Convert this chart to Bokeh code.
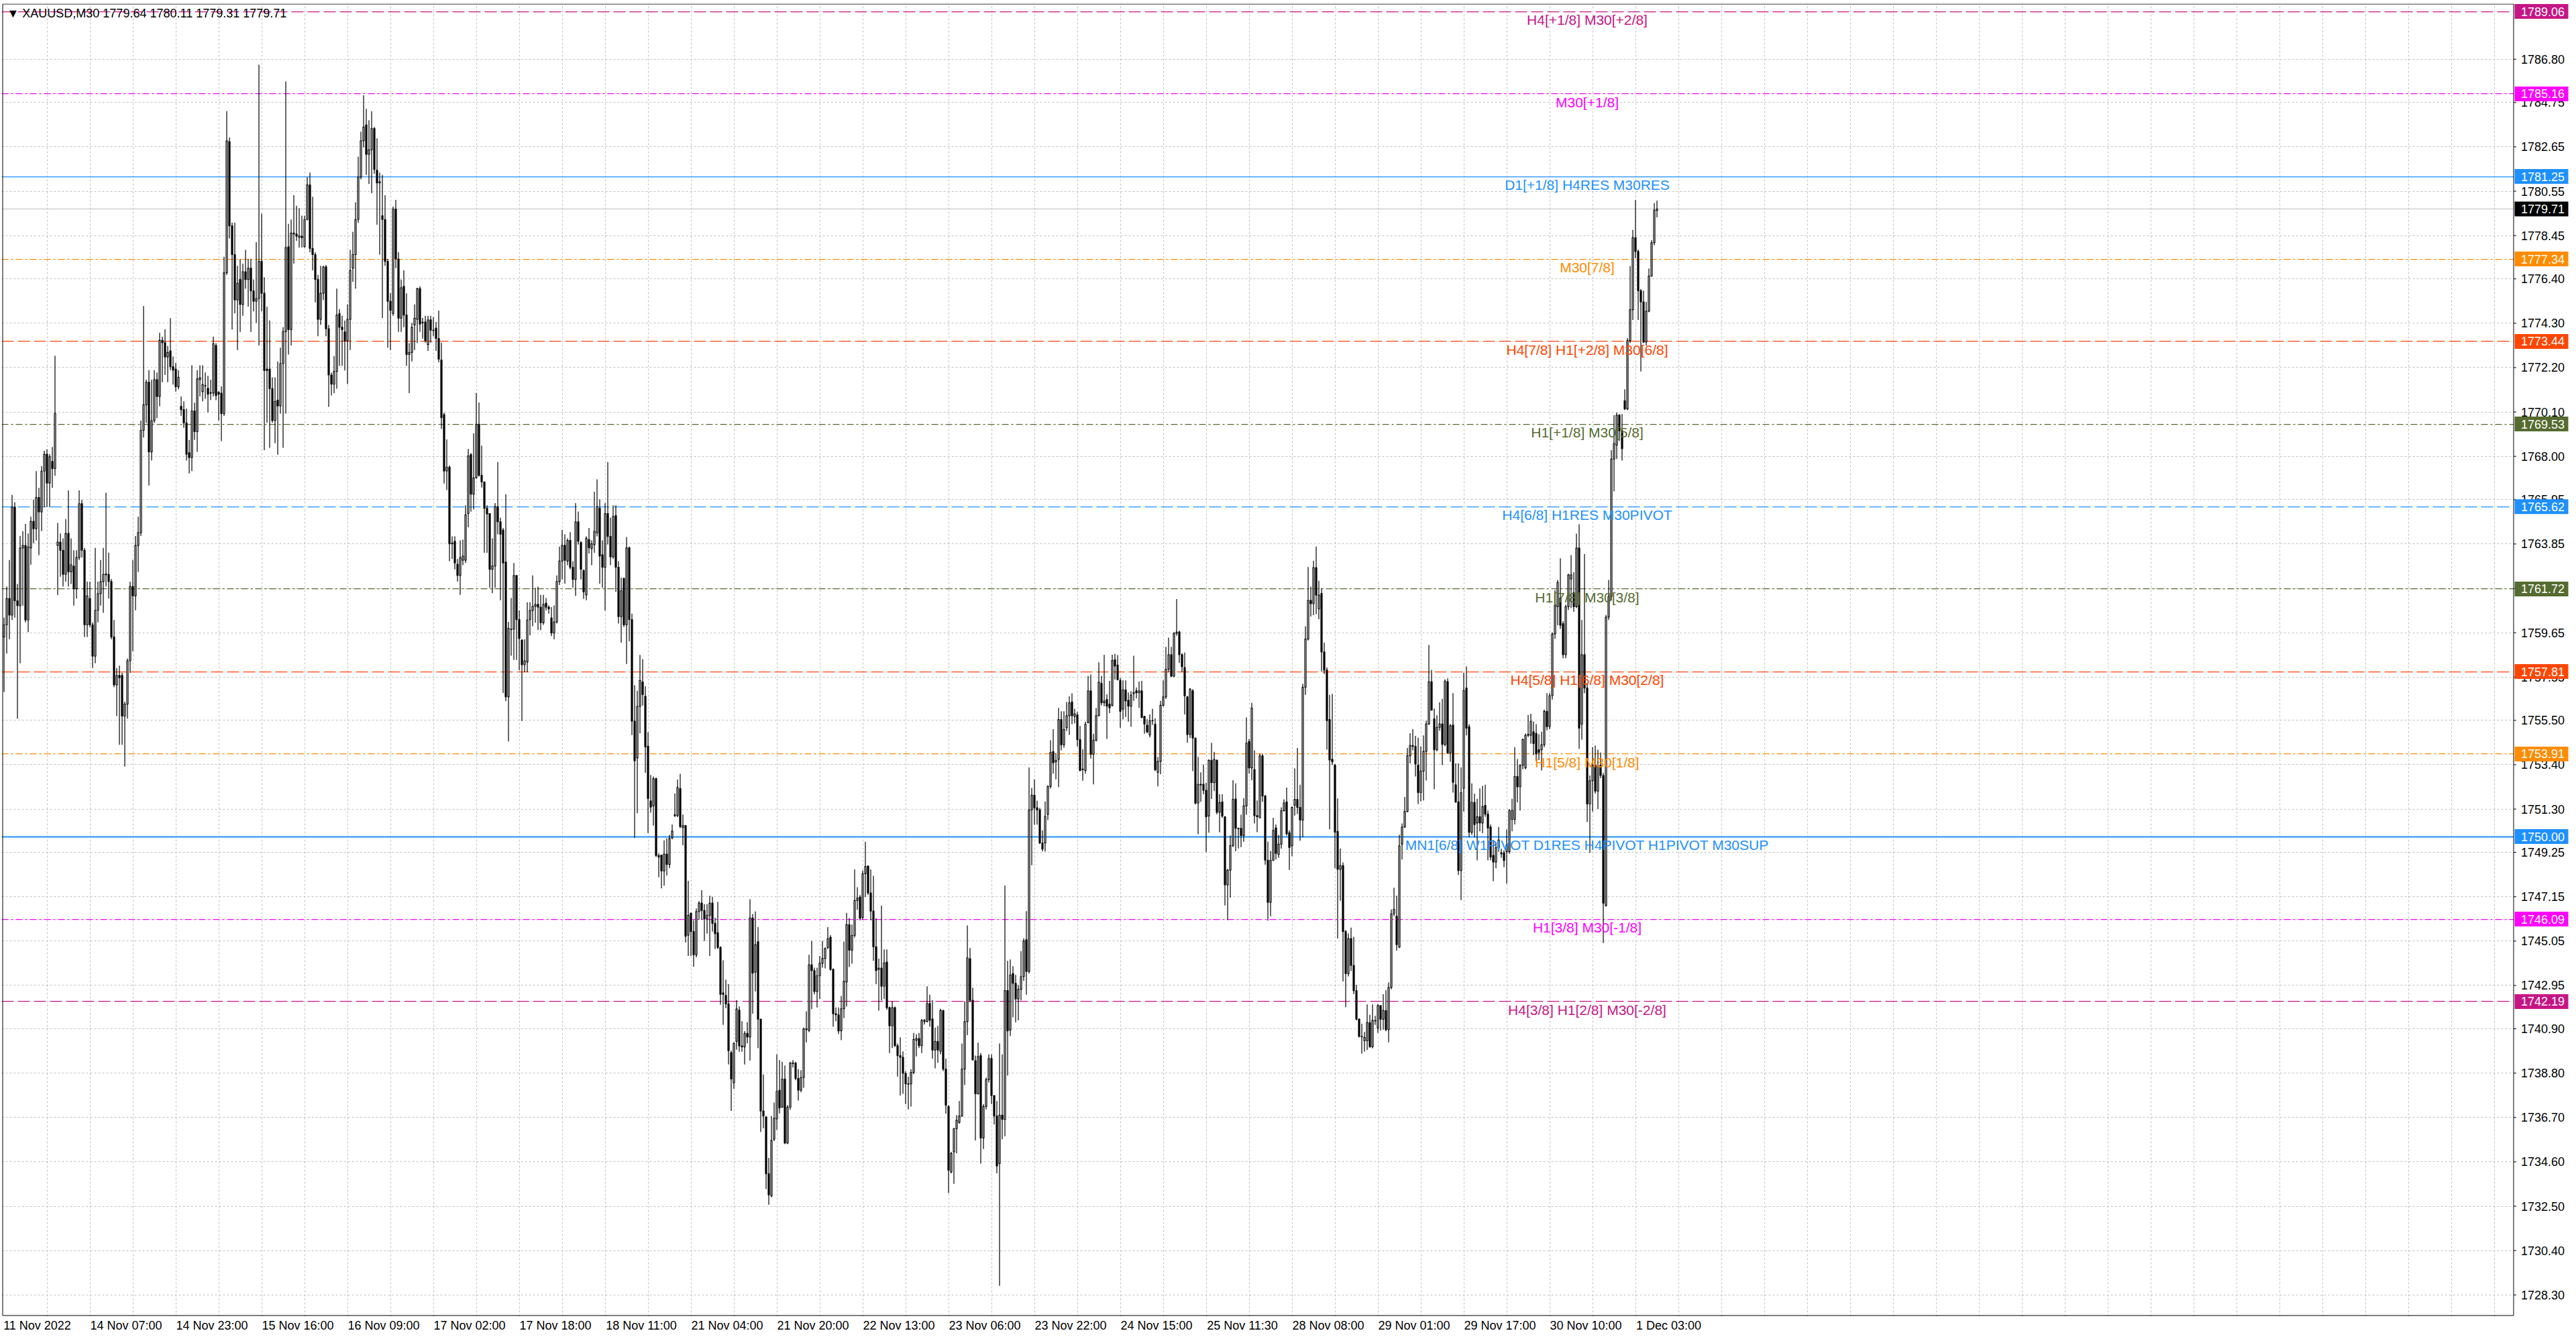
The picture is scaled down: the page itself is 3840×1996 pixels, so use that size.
from bokeh.plotting import figure
from bokeh.models import Range1d, FixedTicker, Label, ColumnDataSource, Grid
from bokeh.core.properties import value
from bokeh.embed import file_html
from bokeh.resources import INLINE

SYMBOL = "XAUUSD,M30"

# M30 bars, oldest first (bar 0 = 11 Nov 2022 13:00)
open_ = [
    1759.45, 1760.02, 1761.27, 1760.48, 1765.60, 1761.16, 1760.93, 1763.66, 1763.78, 1760.25,
    1763.66, 1764.92, 1764.57, 1766.05, 1765.37, 1767.30, 1768.10, 1766.73, 1767.76, 1767.42,
    1763.78, 1763.94, 1763.55, 1762.41, 1764.35, 1762.53, 1762.80, 1761.73, 1763.21, 1765.76,
    1763.55, 1760.02, 1761.27, 1760.02, 1758.54, 1760.71, 1761.50, 1762.07, 1762.39, 1762.41,
    1762.07, 1759.45, 1757.18, 1757.63, 1757.63, 1755.70, 1756.27, 1758.32, 1761.84, 1761.39,
    1763.78, 1764.39, 1769.23, 1770.44, 1771.51, 1768.21, 1769.69, 1771.63, 1770.83, 1773.49,
    1773.38, 1772.70, 1772.99, 1772.24, 1772.13, 1771.29, 1770.37, 1770.21, 1769.58, 1768.17,
    1767.94, 1770.15, 1769.17, 1771.63, 1771.06, 1771.35, 1771.22, 1770.99, 1770.99,
    1773.25, 1771.03, 1770.99, 1770.02, 1776.69, 1782.90, 1778.91, 1777.55, 1775.40, 1776.37,
    1775.19, 1776.74, 1776.37, 1776.91, 1775.83, 1775.34, 1775.47, 1777.23, 1775.72, 1772.13,
    1772.13, 1771.20, 1769.69, 1770.66, 1770.38, 1772.39, 1773.90, 1777.92, 1774.00, 1778.57,
    1778.52, 1778.37, 1778.42, 1777.92, 1779.21, 1780.85, 1777.84, 1777.55, 1776.37, 1774.48,
    1775.72, 1776.97, 1774.04, 1771.85, 1771.42, 1772.02, 1774.76, 1774.11, 1773.89, 1773.46,
    1774.48, 1776.91, 1777.55, 1779.21, 1781.22, 1782.94, 1783.69, 1782.29, 1782.51, 1783.52,
    1781.54, 1780.94, 1779.39, 1779.21, 1777.23, 1775.34, 1774.76, 1779.71, 1777.34, 1774.54,
    1776.05, 1774.69, 1772.82, 1772.92, 1774.22, 1774.48, 1775.94, 1774.35,
    1774.36, 1773.29, 1774.46, 1773.97, 1774.07, 1773.58, 1772.56, 1769.97, 1767.30, 1767.49,
    1763.90, 1763.98, 1762.89, 1762.36, 1763.08, 1763.08, 1765.29, 1768.08, 1766.21, 1766.98,
    1769.52, 1767.10, 1766.79, 1765.54, 1765.29, 1762.65, 1762.81, 1765.62, 1764.90, 1764.51,
    1762.99, 1756.61, 1759.82, 1759.82, 1762.36, 1760.27, 1759.30, 1758.13, 1758.26, 1760.27,
    1760.70, 1760.90, 1760.99, 1760.86, 1760.12, 1761.05, 1760.86, 1760.35, 1759.63, 1760.16,
    1762.07, 1763.04, 1763.79, 1763.04, 1764.02, 1762.75, 1762.17, 1764.90, 1763.92, 1762.59,
    1761.44, 1764.06, 1763.63, 1763.82, 1764.37, 1765.54, 1763.34, 1762.75, 1765.29, 1764.21,
    1763.24, 1765.19, 1762.75, 1760.41, 1762.22, 1760.02, 1763.67,
    1760.27, 1755.46, 1753.72, 1756.16, 1757.32, 1756.64, 1754.28, 1751.69, 1751.45, 1752.74,
    1749.10, 1749.12, 1748.37, 1749.17, 1748.68, 1749.94, 1750.99, 1750.99, 1752.27, 1750.43,
    1750.52, 1745.33, 1746.38, 1745.50, 1744.40, 1746.45, 1746.85, 1746.50, 1746.10, 1746.27,
    1746.85, 1745.89, 1745.45, 1744.75, 1742.60, 1742.48, 1742.08, 1739.77, 1738.34, 1740.30,
    1741.78, 1740.09, 1740.04, 1740.68, 1740.51, 1746.15, 1743.58, 1745.02, 1741.35, 1737.01,
    1736.72, 1734.04, 1732.99, 1735.67, 1736.63, 1737.99, 1737.19, 1738.52, 1735.49, 1737.19,
    1739.25, 1739.28, 1738.55, 1737.99, 1738.59, 1740.86, 1740.82, 1743.93, 1743.65, 1742.66,
    1743.41, 1744.00, 1744.23, 1744.75, 1745.23, 1743.71, 1741.61, 1741.56,
    1740.80, 1741.85, 1743.11, 1745.83, 1744.62, 1745.32, 1746.97, 1747.13, 1746.17, 1748.24,
    1748.60, 1747.33, 1746.47, 1744.78, 1743.71, 1743.77, 1742.91, 1744.06, 1741.90, 1741.04,
    1741.90, 1740.10, 1739.63, 1739.55, 1738.79, 1738.29, 1738.29, 1738.83, 1740.36, 1740.44,
    1740.10, 1741.24, 1741.24, 1742.10, 1741.36, 1739.89, 1740.30, 1739.83, 1741.77, 1738.99,
    1737.22, 1734.12, 1735.07, 1736.17, 1736.47, 1736.77, 1738.99, 1741.24, 1744.22, 1742.25,
    1739.39, 1737.82, 1739.63, 1735.73, 1737.22, 1738.49, 1739.49, 1737.74, 1736.77, 1734.52,
    1736.81, 1736.61, 1742.71, 1740.84, 1743.51, 1743.05, 1742.31, 1742.77, 1743.37, 1745.12,
    1743.61, 1751.26, 1751.96, 1751.36, 1751.26, 1749.69, 1749.69,
    1751.05, 1752.37, 1754.02, 1753.53, 1753.65, 1755.54, 1754.34, 1755.15, 1755.72, 1756.37,
    1755.69, 1755.76, 1754.59, 1753.20, 1753.12, 1755.39, 1756.90, 1753.89, 1754.56, 1755.72,
    1757.25, 1756.33, 1756.49, 1756.27, 1756.21, 1758.37, 1758.12, 1757.39, 1756.03, 1756.94,
    1756.45, 1756.17, 1756.76, 1756.90, 1756.81, 1756.90, 1755.69, 1755.27, 1754.81, 1755.49,
    1755.32, 1753.04, 1753.56, 1756.21, 1756.61, 1757.92, 1758.61, 1757.59, 1759.62, 1759.68,
    1758.61, 1758.00, 1756.61, 1754.83, 1756.90, 1754.66, 1751.58, 1752.47, 1752.47, 1752.19,
    1750.97, 1753.61, 1752.55, 1753.61, 1751.15, 1751.64, 1750.93, 1747.71, 1748.41, 1749.57,
    1751.78, 1750.39, 1750.39, 1750.05, 1751.45, 1754.50, 1753.25,
    1753.17, 1750.99, 1750.89, 1753.82, 1751.92, 1748.88, 1746.88, 1748.88, 1750.41, 1749.15,
    1749.64, 1751.22, 1751.64, 1750.18, 1749.56, 1751.48, 1751.76, 1751.38, 1750.78, 1757.07,
    1759.35, 1761.18, 1761.02, 1762.73, 1760.78, 1761.51, 1758.74, 1757.88, 1755.54, 1753.66,
    1753.38, 1750.24, 1748.45, 1748.62, 1745.50, 1743.51, 1745.17, 1743.90, 1742.70, 1741.35,
    1740.54, 1740.33, 1740.33, 1741.19, 1740.05, 1741.27, 1740.94, 1742.00, 1741.35, 1741.76,
    1740.86, 1742.86, 1746.34, 1746.23, 1744.76, 1749.64, 1750.45, 1751.19, 1753.82, 1754.27,
    1754.27, 1753.38, 1752.08, 1753.10, 1754.03, 1755.33, 1757.33, 1755.57, 1754.11, 1755.17,
    1755.33, 1754.36, 1757.33, 1753.95, 1755.28, 1752.45, 1751.64, 1748.39,
    1752.28, 1757.03, 1755.20, 1750.20, 1751.62, 1750.64, 1750.94, 1750.64, 1751.47, 1751.06,
    1750.45, 1749.11, 1748.79, 1749.47, 1749.23, 1749.23, 1749.28, 1749.28, 1750.81, 1750.81,
    1752.84, 1752.35, 1753.37, 1753.25, 1754.79, 1754.79, 1754.96, 1754.88, 1754.11, 1754.11,
    1754.35, 1755.93, 1755.20, 1756.67, 1759.59, 1760.88, 1761.29, 1760.08, 1758.61, 1760.88,
    1762.19, 1761.54, 1760.88, 1763.66, 1755.32, 1758.61, 1757.03, 1751.54, 1752.64, 1753.37,
    1752.15, 1753.37, 1752.89, 1746.74, 1760.39, 1761.37, 1767.87, 1768.53, 1769.95, 1769.21,
    1770.63, 1770.24, 1773.48, 1774.94, 1778.35, 1777.70, 1775.84, 1775.31, 1773.41, 1774.87,
    1776.53, 1778.11, 1779.64,
]

high = [
    1760.36, 1761.84, 1763.09, 1766.17, 1765.82, 1761.96, 1764.23, 1764.46, 1764.80, 1764.35,
    1765.14, 1765.94, 1767.30, 1766.51, 1767.53, 1768.26, 1768.33, 1768.10, 1768.44, 1772.76,
    1764.85, 1764.35, 1764.12, 1765.03, 1766.39, 1764.12, 1763.55, 1763.55, 1766.39, 1765.94,
    1763.66, 1762.07, 1762.07, 1760.14, 1763.66, 1762.07, 1763.09, 1763.66, 1766.28, 1763.44,
    1762.19, 1760.25, 1757.98, 1758.09, 1757.75, 1756.38, 1758.43, 1762.07, 1763.09, 1764.23,
    1765.14, 1769.69, 1775.11, 1771.63, 1772.08, 1771.63, 1772.08, 1771.97, 1773.85, 1773.67,
    1774.02, 1773.22, 1774.54, 1772.72, 1772.42, 1772.08, 1770.83, 1770.60, 1770.26, 1768.78,
    1772.31, 1770.54, 1772.08, 1772.31, 1772.31, 1771.97, 1771.81, 1771.63, 1773.67,
    1773.36, 1771.09, 1771.31, 1777.45, 1784.34, 1783.09, 1779.06, 1779.06, 1777.02, 1777.34,
    1777.12, 1777.77, 1777.34, 1777.34, 1776.37, 1778.14, 1786.54, 1779.49, 1776.48, 1775.08,
    1774.43, 1771.74, 1771.74, 1772.49, 1773.14, 1774.11, 1785.74, 1779.00, 1779.21, 1780.36,
    1779.86, 1779.75, 1779.39, 1779.39, 1781.22, 1781.43, 1780.29, 1777.66, 1776.59, 1777.02,
    1777.02, 1777.06, 1774.22, 1771.96, 1772.75, 1775.94, 1774.97, 1774.65, 1774.43, 1775.19,
    1777.77, 1778.63, 1780.03, 1782.19, 1783.37, 1785.09, 1784.45, 1783.91, 1784.34, 1783.59,
    1783.05, 1781.43, 1781.32, 1780.36, 1777.34, 1775.72, 1779.82, 1780.14, 1777.66, 1776.37,
    1776.80, 1775.72, 1773.36, 1774.32, 1775.19, 1775.98, 1776.05, 1774.55,
    1774.65, 1774.65, 1774.65, 1774.59, 1774.36, 1774.90, 1773.38, 1770.07, 1768.80, 1767.57,
    1764.21, 1764.21, 1763.14, 1764.02, 1764.06, 1765.68, 1768.35, 1768.16, 1769.09, 1771.00,
    1770.55, 1768.51, 1766.79, 1765.68, 1765.29, 1764.12, 1765.78, 1767.73, 1765.09, 1764.61,
    1766.20, 1760.16, 1761.29, 1762.95, 1762.36, 1760.70, 1759.34, 1759.34, 1761.09, 1761.09,
    1762.36, 1761.78, 1761.83, 1761.44, 1761.44, 1761.29, 1760.94, 1760.86, 1760.94, 1762.36,
    1763.73, 1764.51, 1764.31, 1764.12, 1764.41, 1763.04, 1765.78, 1765.39, 1763.98, 1762.65,
    1764.21, 1764.61, 1764.02, 1766.32, 1766.91, 1765.97, 1764.02, 1765.78, 1767.73, 1765.09,
    1765.68, 1765.68, 1763.04, 1762.26, 1762.26, 1764.18, 1763.73,
    1760.55, 1757.16, 1756.90, 1758.60, 1758.40, 1757.11, 1754.94, 1752.91, 1752.84, 1752.79,
    1749.21, 1749.12, 1749.82, 1749.91, 1750.08, 1750.57, 1752.04, 1752.70, 1752.97, 1751.04,
    1750.52, 1747.90, 1746.38, 1746.03, 1746.59, 1746.94, 1747.46, 1746.80, 1746.80, 1747.20,
    1747.15, 1746.15, 1746.90, 1744.81, 1744.14, 1743.23, 1743.01, 1739.86, 1740.26, 1742.25,
    1741.96, 1741.26, 1740.79, 1741.21, 1747.03, 1746.33, 1746.45, 1745.71, 1741.38, 1738.73,
    1736.77, 1734.79, 1736.77, 1737.41, 1739.69, 1739.42, 1739.34, 1739.16, 1737.29, 1739.34,
    1739.42, 1739.34, 1738.99, 1738.94, 1740.96, 1741.73, 1744.40, 1745.05, 1743.79, 1743.79,
    1744.35, 1745.05, 1744.75, 1745.71, 1745.33, 1743.76, 1741.91, 1741.91,
    1742.45, 1745.02, 1746.39, 1746.13, 1745.83, 1748.44, 1747.60, 1747.23, 1748.40, 1749.75,
    1748.64, 1748.44, 1748.14, 1746.13, 1744.22, 1746.73, 1744.66, 1744.66, 1741.96, 1742.20,
    1741.96, 1740.20, 1740.50, 1739.83, 1738.89, 1738.63, 1738.99, 1740.70, 1740.64, 1740.70,
    1741.36, 1741.36, 1742.91, 1742.51, 1742.25, 1740.96, 1741.04, 1741.85, 1741.77, 1739.49,
    1737.28, 1735.07, 1736.21, 1736.81, 1737.48, 1740.20, 1742.20, 1745.79, 1744.72, 1742.85,
    1739.63, 1740.24, 1739.75, 1737.34, 1738.59, 1739.69, 1739.69, 1737.74, 1737.48, 1740.20,
    1739.69, 1747.68, 1744.12, 1744.18, 1743.86, 1743.45, 1742.97, 1744.58, 1745.18, 1746.47,
    1753.27, 1752.30, 1752.71, 1751.70, 1751.36, 1750.29, 1751.66,
    1752.43, 1754.56, 1755.08, 1753.95, 1756.09, 1755.93, 1755.93, 1756.37, 1756.64, 1756.78,
    1756.05, 1755.90, 1755.23, 1754.14, 1755.44, 1757.61, 1757.67, 1754.87, 1756.09, 1758.25,
    1757.61, 1758.61, 1756.73, 1757.37, 1758.61, 1758.65, 1758.59, 1757.51, 1757.39, 1757.39,
    1756.82, 1756.88, 1758.56, 1757.06, 1757.34, 1757.37, 1755.72, 1755.56, 1755.78, 1756.05,
    1755.60, 1753.77, 1756.42, 1757.39, 1758.98, 1759.42, 1758.98, 1759.68, 1761.24, 1759.74,
    1758.68, 1758.71, 1756.66, 1757.03, 1756.98, 1754.69, 1753.77, 1753.04, 1753.41, 1752.55,
    1753.65, 1754.44, 1754.01, 1753.65, 1752.00, 1752.00, 1750.97, 1748.47, 1750.05, 1752.67,
    1752.52, 1750.42, 1751.03, 1751.82, 1755.64, 1754.62, 1756.33,
    1754.08, 1751.71, 1753.92, 1753.92, 1751.97, 1749.76, 1749.32, 1750.89, 1750.57, 1750.08,
    1751.38, 1751.76, 1752.32, 1750.29, 1751.43, 1753.22, 1754.19, 1752.45, 1757.23, 1759.96,
    1762.76, 1761.83, 1763.05, 1763.73, 1762.11, 1761.75, 1759.18, 1758.01, 1756.71, 1756.75,
    1753.43, 1751.80, 1749.43, 1748.78, 1745.58, 1745.41, 1745.69, 1745.25, 1742.98, 1741.40,
    1741.14, 1740.75, 1742.05, 1741.56, 1742.05, 1741.51, 1742.08, 1742.00, 1742.54, 1742.73,
    1743.09, 1746.55, 1747.58, 1747.20, 1750.08, 1750.62, 1751.87, 1754.19, 1754.89, 1755.09,
    1754.76, 1754.68, 1754.27, 1754.79, 1755.49, 1759.07, 1757.88, 1756.06, 1755.74, 1756.35,
    1756.52, 1757.44, 1757.49, 1755.33, 1756.79, 1753.46, 1753.46, 1753.27,
    1757.76, 1758.05, 1755.32, 1752.52, 1752.03, 1751.79, 1752.28, 1752.40, 1752.45, 1751.23,
    1750.57, 1749.84, 1749.72, 1750.45, 1749.43, 1749.35, 1750.33, 1751.30, 1751.79, 1754.23,
    1753.67, 1753.42, 1754.64, 1754.88, 1755.76, 1755.81, 1755.45, 1755.32, 1754.84, 1754.96,
    1756.01, 1756.79, 1756.79, 1759.66, 1761.66, 1762.15, 1763.17, 1760.20, 1760.98, 1762.44,
    1763.32, 1762.51, 1764.34, 1764.78, 1760.25, 1763.37, 1757.27, 1752.89, 1754.23, 1754.30,
    1754.11, 1753.98, 1753.01, 1760.49, 1762.15, 1768.29, 1769.95, 1770.07, 1770.00, 1770.00,
    1771.17, 1773.60, 1777.01, 1778.72, 1780.13, 1777.79, 1775.92, 1775.84, 1775.31, 1776.89,
    1778.23, 1779.99, 1780.11,
]

low = [
    1756.84, 1758.66, 1759.34, 1760.25, 1760.36, 1755.58, 1758.20, 1760.93, 1760.14, 1759.68,
    1762.87, 1763.89, 1764.01, 1763.32, 1764.46, 1765.60, 1765.60, 1765.60, 1766.51, 1767.08,
    1761.43, 1762.30, 1761.84, 1762.07, 1761.84, 1761.96, 1760.93, 1761.27, 1763.09, 1763.21,
    1759.45, 1759.45, 1759.91, 1757.98, 1758.20, 1760.14, 1760.93, 1760.59, 1761.84, 1761.27,
    1759.34, 1757.07, 1755.70, 1754.34, 1754.34, 1753.31, 1755.58, 1757.75, 1758.77, 1760.71,
    1762.53, 1764.23, 1768.89, 1769.58, 1766.62, 1767.80, 1769.58, 1769.81, 1770.37, 1771.51,
    1771.85, 1771.51, 1772.08, 1771.40, 1771.06, 1771.17, 1769.92, 1769.35, 1767.80, 1767.19,
    1767.30, 1768.78, 1768.21, 1770.83, 1770.60, 1770.72, 1770.08, 1770.67, 1770.83,
    1770.66, 1769.69, 1768.72, 1769.91, 1776.59, 1778.31, 1774.00, 1774.76, 1773.03, 1773.89,
    1774.65, 1775.94, 1775.08, 1773.89, 1774.86, 1774.32, 1773.25, 1774.86, 1768.29, 1769.59,
    1768.40, 1769.59, 1768.62, 1768.08, 1770.02, 1768.40, 1770.02, 1772.82, 1773.25, 1777.12,
    1778.20, 1777.88, 1777.88, 1777.88, 1779.17, 1777.66, 1776.80, 1775.29, 1773.68, 1774.22,
    1775.40, 1773.68, 1770.34, 1770.88, 1770.99, 1771.20, 1772.28, 1772.28, 1772.06, 1771.42,
    1773.03, 1776.26, 1775.94, 1779.06, 1781.11, 1782.62, 1781.32, 1780.89, 1780.46, 1781.37,
    1778.96, 1777.55, 1774.54, 1777.02, 1773.14, 1773.03, 1774.65, 1776.91, 1773.89, 1773.89,
    1774.11, 1772.28, 1770.99, 1772.49, 1773.03, 1773.36, 1773.89, 1773.57,
    1773.38, 1772.99, 1773.38, 1773.68, 1772.99, 1772.45, 1769.29, 1766.71, 1766.40, 1763.04,
    1763.14, 1762.65, 1762.07, 1761.44, 1762.85, 1762.95, 1764.64, 1765.38, 1765.48, 1766.95,
    1767.04, 1766.52, 1763.43, 1763.43, 1761.78, 1761.52, 1761.78, 1764.31, 1761.19, 1756.80,
    1756.41, 1754.50, 1758.56, 1758.36, 1758.36, 1757.87, 1755.47, 1757.78, 1757.78, 1759.53,
    1759.96, 1760.12, 1759.77, 1759.77, 1760.02, 1760.70, 1760.55, 1759.49, 1759.34, 1760.08,
    1761.91, 1762.17, 1761.97, 1762.85, 1762.65, 1761.78, 1761.39, 1763.82, 1762.17, 1761.25,
    1761.19, 1763.40, 1762.85, 1763.43, 1764.21, 1761.97, 1761.78, 1760.70, 1763.82, 1762.85,
    1763.14, 1761.58, 1760.08, 1759.18, 1759.92, 1758.17, 1759.24,
    1754.80, 1749.94, 1751.10, 1754.89, 1756.20, 1753.02, 1750.17, 1751.13, 1750.52, 1749.03,
    1748.07, 1747.55, 1747.67, 1748.16, 1748.51, 1749.87, 1750.92, 1750.92, 1750.40, 1749.59,
    1744.98, 1744.35, 1744.35, 1743.83, 1744.28, 1746.06, 1746.06, 1745.05, 1745.40, 1744.35,
    1745.50, 1744.67, 1744.67, 1742.04, 1741.08, 1741.87, 1739.21, 1737.01, 1738.06, 1739.91,
    1739.81, 1739.81, 1739.21, 1740.21, 1739.39, 1741.61, 1742.66, 1739.98, 1736.02, 1736.19,
    1733.31, 1732.57, 1732.92, 1735.58, 1736.11, 1736.89, 1737.15, 1735.44, 1735.44, 1737.07,
    1739.07, 1738.46, 1737.50, 1737.89, 1738.11, 1740.26, 1740.74, 1741.83, 1742.53, 1741.91,
    1742.31, 1743.79, 1743.76, 1744.67, 1743.65, 1741.00, 1741.26, 1740.65,
    1740.36, 1741.40, 1741.96, 1743.82, 1743.98, 1745.22, 1746.53, 1746.03, 1746.07, 1747.13,
    1747.23, 1746.03, 1744.12, 1743.01, 1741.76, 1742.24, 1742.31, 1741.80, 1739.75, 1739.99,
    1740.04, 1738.63, 1737.74, 1737.82, 1737.34, 1737.08, 1737.22, 1738.75, 1739.59, 1739.99,
    1739.75, 1741.10, 1741.20, 1741.00, 1739.49, 1739.03, 1739.29, 1739.69, 1738.89, 1736.88,
    1733.12, 1734.06, 1733.56, 1735.00, 1736.41, 1736.73, 1738.23, 1740.60, 1742.16, 1739.39,
    1735.61, 1737.78, 1734.52, 1735.21, 1737.08, 1738.35, 1737.34, 1736.37, 1734.06, 1728.73,
    1735.67, 1735.81, 1738.69, 1740.56, 1741.44, 1741.20, 1741.30, 1742.24, 1743.17, 1742.51,
    1743.51, 1748.64, 1750.56, 1750.56, 1749.65, 1749.29, 1749.29,
    1750.78, 1752.27, 1752.98, 1752.71, 1752.34, 1754.08, 1754.20, 1754.99, 1754.81, 1755.32,
    1755.36, 1754.26, 1753.10, 1752.64, 1752.98, 1755.36, 1753.69, 1752.47, 1754.50, 1755.69,
    1756.21, 1756.17, 1754.62, 1755.84, 1756.15, 1757.43, 1757.39, 1755.15, 1755.54, 1755.66,
    1755.44, 1755.20, 1756.42, 1756.54, 1756.09, 1755.60, 1754.87, 1754.90, 1754.69, 1755.29,
    1753.10, 1752.37, 1752.95, 1756.15, 1756.51, 1757.79, 1757.55, 1757.55, 1759.50, 1758.22,
    1757.79, 1755.78, 1754.44, 1754.66, 1753.10, 1751.52, 1750.11, 1751.64, 1752.00, 1749.26,
    1750.18, 1751.78, 1752.15, 1751.05, 1750.20, 1750.88, 1746.74, 1746.05, 1747.10, 1749.50,
    1749.30, 1749.44, 1749.50, 1749.75, 1751.03, 1752.98, 1752.67,
    1750.62, 1750.21, 1750.86, 1751.64, 1748.67, 1746.02, 1746.23, 1748.83, 1748.91, 1748.99,
    1749.43, 1751.19, 1750.05, 1748.42, 1749.07, 1750.99, 1751.06, 1749.80, 1749.97, 1756.71,
    1759.28, 1760.42, 1760.48, 1760.53, 1760.29, 1757.82, 1757.69, 1754.11, 1750.34, 1753.38,
    1748.50, 1745.17, 1746.96, 1743.14, 1741.92, 1743.38, 1743.63, 1742.54, 1741.30, 1740.49,
    1739.73, 1739.81, 1739.89, 1740.00, 1739.97, 1741.08, 1740.70, 1740.81, 1740.86, 1740.78,
    1740.26, 1742.77, 1746.23, 1744.60, 1744.72, 1748.91, 1750.41, 1751.15, 1753.46, 1754.08,
    1752.84, 1751.54, 1751.67, 1751.71, 1752.65, 1755.28, 1755.98, 1752.24, 1754.03, 1755.01,
    1753.38, 1754.27, 1753.92, 1753.54, 1752.08, 1751.59, 1748.18, 1746.99,
    1751.18, 1754.79, 1749.96, 1750.08, 1749.96, 1748.87, 1750.25, 1750.16, 1750.94, 1748.87,
    1748.87, 1747.89, 1748.50, 1749.28, 1748.99, 1748.55, 1747.77, 1749.18, 1750.25, 1750.57,
    1751.62, 1751.23, 1753.18, 1753.18, 1754.71, 1754.40, 1753.86, 1753.57, 1753.62, 1753.13,
    1754.23, 1755.03, 1755.08, 1756.49, 1759.35, 1760.00, 1759.83, 1758.44, 1758.44, 1760.73,
    1760.81, 1760.64, 1760.81, 1754.15, 1754.59, 1756.79, 1750.69, 1749.23, 1751.18, 1752.03,
    1751.30, 1752.76, 1744.96, 1746.67, 1760.25, 1761.17, 1766.34, 1767.87, 1768.73, 1767.80,
    1770.19, 1770.19, 1773.36, 1774.45, 1777.38, 1774.45, 1772.02, 1773.36, 1773.24, 1774.82,
    1776.53, 1777.99, 1779.31,
]

close = [
    1760.02, 1761.27, 1760.48, 1765.60, 1761.16, 1760.93, 1763.66, 1763.78, 1760.25, 1763.71,
    1764.92, 1764.57, 1766.05, 1765.37, 1767.30, 1768.10, 1766.73, 1767.98, 1767.42, 1770.04,
    1763.94, 1763.55, 1762.41, 1764.35, 1762.53, 1762.87, 1761.73, 1763.21, 1765.76, 1763.55,
    1760.02, 1761.39, 1760.02, 1758.54, 1760.71, 1761.50, 1762.07, 1762.41, 1762.43, 1762.07,
    1759.45, 1757.18, 1757.63, 1757.52, 1755.70, 1756.27, 1758.32, 1761.84, 1761.39, 1763.78,
    1764.39, 1769.23, 1770.44, 1771.51, 1768.21, 1769.69, 1771.63, 1770.83, 1773.49, 1773.38,
    1772.70, 1772.92, 1772.24, 1772.08, 1771.29, 1771.74, 1770.21, 1769.58, 1768.10, 1767.94,
    1770.15, 1769.17, 1771.67, 1771.72, 1771.40, 1771.33, 1770.94, 1771.01, 1773.33,
    1770.88, 1770.94, 1770.02, 1776.69, 1782.94, 1778.91, 1777.55, 1775.40, 1776.20, 1775.19,
    1776.74, 1776.37, 1776.91, 1775.83, 1775.34, 1775.47, 1777.23, 1775.72, 1772.06, 1772.06,
    1771.20, 1769.69, 1770.60, 1770.38, 1772.39, 1773.90, 1777.88, 1774.00, 1778.57, 1778.52,
    1778.42, 1778.44, 1778.35, 1779.21, 1780.85, 1777.84, 1777.55, 1776.37, 1774.48, 1775.72,
    1776.97, 1774.04, 1771.85, 1771.42, 1772.02, 1774.69, 1774.11, 1774.00, 1773.46, 1774.48,
    1776.80, 1777.55, 1779.21, 1781.22, 1782.94, 1783.59, 1782.29, 1782.51, 1783.52, 1781.58,
    1780.94, 1781.00, 1779.21, 1777.23, 1775.34, 1774.91, 1779.71, 1777.34, 1774.54, 1775.98,
    1774.69, 1772.82, 1772.92, 1774.11, 1774.54, 1775.94, 1774.26, 1774.32,
    1773.48, 1774.46, 1773.97, 1773.95, 1773.58, 1772.60, 1769.83, 1767.30, 1767.49, 1763.86,
    1763.86, 1762.95, 1762.36, 1763.20, 1763.28, 1765.23, 1768.02, 1766.21, 1766.98, 1769.52,
    1767.10, 1766.79, 1765.54, 1765.27, 1762.65, 1762.81, 1765.62, 1764.90, 1764.31, 1762.95,
    1756.61, 1759.86, 1759.80, 1762.36, 1760.27, 1759.38, 1758.13, 1758.32, 1760.25, 1760.70,
    1760.90, 1760.99, 1760.86, 1760.12, 1760.99, 1760.86, 1760.78, 1759.63, 1760.16, 1762.07,
    1763.04, 1763.79, 1763.08, 1764.02, 1762.75, 1762.17, 1764.90, 1763.98, 1762.65, 1761.58,
    1764.12, 1763.67, 1763.86, 1764.45, 1765.62, 1763.28, 1762.75, 1765.29, 1764.21, 1763.24,
    1765.15, 1762.75, 1760.41, 1761.64, 1760.02, 1763.67, 1760.27,
    1755.46, 1753.58, 1756.16, 1757.39, 1756.72, 1754.24, 1751.80, 1751.39, 1752.74, 1749.10,
    1749.03, 1748.37, 1749.17, 1748.68, 1749.91, 1750.26, 1751.03, 1752.32, 1750.47, 1750.52,
    1745.28, 1746.27, 1745.50, 1744.40, 1746.45, 1746.85, 1746.50, 1746.10, 1746.27, 1746.85,
    1745.89, 1745.40, 1744.75, 1742.53, 1742.53, 1742.08, 1739.86, 1738.52, 1740.21, 1741.84,
    1740.09, 1740.04, 1740.68, 1740.51, 1746.15, 1743.53, 1744.88, 1741.35, 1737.01, 1736.77,
    1734.04, 1733.04, 1735.62, 1736.66, 1737.94, 1737.15, 1738.52, 1735.49, 1737.19, 1739.28,
    1739.28, 1738.55, 1737.99, 1738.59, 1740.91, 1740.89, 1743.93, 1743.65, 1742.66, 1743.41,
    1744.00, 1744.23, 1744.70, 1745.16, 1743.71, 1741.61, 1741.56, 1740.79,
    1741.85, 1743.15, 1745.83, 1744.62, 1745.32, 1746.97, 1747.09, 1746.13, 1748.24, 1748.58,
    1747.33, 1746.47, 1744.78, 1743.65, 1743.77, 1742.91, 1744.02, 1741.90, 1741.04, 1741.90,
    1740.10, 1739.63, 1739.55, 1738.79, 1738.29, 1738.27, 1738.83, 1740.40, 1740.44, 1740.10,
    1741.30, 1741.30, 1742.10, 1741.30, 1739.89, 1740.30, 1739.89, 1741.77, 1738.99, 1737.28,
    1734.20, 1735.00, 1736.17, 1736.57, 1736.77, 1738.99, 1741.24, 1744.26, 1742.25, 1739.43,
    1737.82, 1739.59, 1735.73, 1737.22, 1738.49, 1739.49, 1737.74, 1736.77, 1734.40, 1736.81,
    1736.61, 1742.71, 1740.80, 1743.45, 1743.05, 1742.31, 1742.77, 1743.37, 1745.06, 1743.61,
    1751.26, 1751.96, 1751.36, 1751.26, 1749.69, 1749.41, 1750.96,
    1752.37, 1753.98, 1753.49, 1753.61, 1755.54, 1754.34, 1755.07, 1755.72, 1756.33, 1755.72,
    1755.81, 1754.59, 1753.12, 1753.17, 1755.32, 1756.90, 1753.89, 1754.56, 1755.72, 1757.31,
    1756.33, 1756.42, 1756.17, 1756.09, 1758.34, 1758.07, 1757.43, 1755.93, 1756.94, 1756.42,
    1756.17, 1756.70, 1756.82, 1756.81, 1756.90, 1755.64, 1755.32, 1754.95, 1755.48, 1755.48,
    1753.16, 1753.56, 1756.21, 1756.61, 1757.92, 1758.61, 1757.59, 1759.62, 1759.68, 1758.61,
    1758.04, 1756.66, 1754.83, 1756.98, 1754.66, 1751.58, 1752.47, 1752.44, 1752.19, 1750.93,
    1753.61, 1752.55, 1753.65, 1751.15, 1751.61, 1750.97, 1747.71, 1748.41, 1749.57, 1751.76,
    1750.39, 1750.37, 1750.05, 1751.45, 1754.42, 1753.25, 1756.09,
    1750.99, 1750.94, 1753.82, 1751.92, 1748.88, 1746.88, 1748.88, 1750.29, 1749.20, 1749.64,
    1751.22, 1751.59, 1750.13, 1749.48, 1751.38, 1751.76, 1751.38, 1750.78, 1757.07, 1759.35,
    1761.18, 1761.02, 1762.73, 1761.43, 1761.43, 1758.74, 1757.88, 1755.49, 1753.62, 1753.54,
    1750.21, 1748.45, 1748.62, 1745.50, 1743.51, 1745.17, 1743.90, 1742.70, 1741.35, 1740.54,
    1740.52, 1740.49, 1741.19, 1740.05, 1741.30, 1741.29, 1742.00, 1741.35, 1741.76, 1740.86,
    1742.86, 1746.34, 1746.55, 1744.88, 1749.56, 1750.45, 1751.19, 1753.82, 1754.31, 1754.31,
    1753.43, 1752.08, 1753.10, 1754.03, 1755.33, 1757.33, 1755.98, 1754.11, 1755.17, 1755.33,
    1754.36, 1757.36, 1753.95, 1755.25, 1752.57, 1751.64, 1748.39, 1752.08,
    1756.91, 1755.13, 1750.20, 1751.62, 1750.57, 1750.94, 1750.64, 1751.42, 1751.06, 1750.40,
    1749.03, 1748.79, 1749.47, 1749.84, 1749.18, 1748.87, 1749.60, 1751.23, 1751.23, 1752.84,
    1752.35, 1753.37, 1754.59, 1754.79, 1754.84, 1755.45, 1754.40, 1753.91, 1753.98, 1754.35,
    1755.93, 1755.20, 1756.67, 1759.59, 1760.93, 1762.03, 1760.00, 1758.61, 1760.88, 1762.39,
    1762.39, 1760.88, 1763.66, 1755.13, 1758.61, 1757.03, 1751.54, 1752.64, 1753.37, 1752.15,
    1753.37, 1752.89, 1746.84, 1760.39, 1761.37, 1767.87, 1768.61, 1769.95, 1769.21, 1768.36,
    1770.24, 1773.48, 1774.94, 1778.35, 1777.70, 1775.84, 1775.31, 1773.41, 1774.87, 1776.53,
    1778.11, 1779.65, 1779.71,
]

# Murrey math levels drawn on the chart
levels = [1789.06, 1785.16, 1781.25, 1777.34, 1773.44, 1769.53, 1765.62,
          1761.72, 1757.81, 1753.91, 1750.00, 1746.09, 1742.19]
level_names = [
    "H4[+1/8] M30[+2/8]",
    "M30[+1/8]",
    "D1[+1/8] H4RES M30RES",
    "M30[7/8]",
    "H4[7/8] H1[+2/8] M30[6/8]",
    "H1[+1/8] M30[5/8]",
    "H4[6/8] H1RES M30PIVOT",
    "H1[7/8] M30[3/8]",
    "H4[5/8] H1[6/8] M30[2/8]",
    "H1[5/8] M30[1/8]",
    "MN1[6/8] W1PIVOT D1RES H4PIVOT H1PIVOT M30SUP",
    "H1[3/8] M30[-1/8]",
    "H4[3/8] H1[2/8] M30[-2/8]",
]

# price scale and time scale labels
price_ticks = [1786.80, 1784.75, 1782.65, 1780.55, 1778.45, 1776.40, 1774.30, 1772.20,
               1770.10, 1768.00, 1765.95, 1763.85, 1761.75, 1759.65, 1757.55, 1755.50,
               1753.40, 1751.30, 1749.25, 1747.15, 1745.05, 1742.95, 1740.90, 1738.80,
               1736.70, 1734.60, 1732.50, 1730.40, 1728.30]
time_ticks = [0, 32, 64, 96, 128, 160, 192, 224, 256, 288,
              320, 352, 384, 416, 448, 480, 512, 544, 576, 608]
time_labels = ["11 Nov 2022", "14 Nov 07:00", "14 Nov 23:00", "15 Nov 16:00", "16 Nov 09:00",
               "17 Nov 02:00", "17 Nov 18:00", "18 Nov 11:00", "21 Nov 04:00", "21 Nov 20:00",
               "22 Nov 13:00", "23 Nov 06:00", "23 Nov 22:00", "24 Nov 15:00", "25 Nov 11:30",
               "28 Nov 08:00", "29 Nov 01:00", "29 Nov 17:00", "30 Nov 10:00", "1 Dec 03:00"]

# line styles per level (colour, dash, width)
LEVEL_COLORS = ["#C71585", "#FF00FF", "#1E90FF", "#FF8C00", "#FF4500", "#556B2F", "#1E90FF",
                "#556B2F", "#FF4500", "#FF8C00", "#1E90FF", "#FF00FF", "#C71585"]
DASH = "18 6"
DASHDOT = "10 4 3 4"
LEVEL_DASH = [DASH, DASHDOT, "solid", DASHDOT, DASH, DASHDOT, DASH,
              DASHDOT, DASH, DASHDOT, "solid", DASHDOT, DASH]
LEVEL_WIDTH = [1.25, 1.25, 1.25, 1.25, 1.25, 1.25, 1.25, 1.25, 1.25, 1.25, 2, 1.25, 1.25]

AXIS_FONT = "Liberation Sans"
CAPTION_FONT = "Liberation Sans"
GRID = "#c0c0c0"
CANDLE_LINE = 1.2

# screen geometry (MT4 look: 4 px per bar, one Murrey step = 123 px)
PX_PER_BAR = 4
PX_PER_PRICE = 123 / 3.90625
FRAME_W, FRAME_H = 3830, 1957
CHART_W = 3744.5          # right border of the chart area, frame px
CHAR_PX = 9.0             # rough width of one axis character

x0 = -0.875
y1 = 1750.0 + 1241.5 / PX_PER_PRICE


def x_at(px):
    return x0 + px / PX_PER_BAR


def y_at(py):
    return y1 - py / PX_PER_PRICE


n = min(len(open_), len(high), len(low), len(close))
bars = list(range(n))
last = close[n - 1]

p = figure(frame_width=FRAME_W, frame_height=FRAME_H,
           x_range=Range1d(x0, x_at(FRAME_W)), y_range=Range1d(y_at(FRAME_H), y1),
           y_axis_location=None, output_backend="svg", toolbar_location=None,
           min_border_left=2, min_border_top=5, min_border_right=0, min_border_bottom=28)
p.background_fill_color = "white"
p.border_fill_color = "white"
p.outline_line_color = None

# grid
if len(p.ygrid) == 0:
    p.add_layout(Grid(dimension=1))
p.ygrid.ticker = FixedTicker(ticks=price_ticks)
p.xgrid.ticker = FixedTicker(ticks=list(range(16, 929, 16)))
for g in (p.xgrid, p.ygrid):
    g.grid_line_color = GRID
    g.grid_line_dash = "3 3"
    g.grid_line_width = 1

# bottom time axis: MT4 writes each date to the right of its bar,
# so the (centred) Bokeh label is moved by half its width
label_pos = [t + len(s) * CHAR_PX / 2 / PX_PER_BAR for t, s in zip(time_ticks, time_labels)]
xa = p.xaxis[0]
xa.ticker = FixedTicker(ticks=label_pos)
xa.major_label_overrides = {pos: s for pos, s in zip(label_pos, time_labels)}
xa.major_label_text_font = AXIS_FONT
xa.major_label_text_font_size = "18px"
xa.major_label_text_color = "black"
xa.major_tick_out = 0
xa.major_tick_in = 0
xa.minor_tick_out = 0
xa.minor_tick_in = 0
xa.major_label_standoff = 3
xa.axis_line_color = None

# level lines
for lvl, col, dash, w in zip(levels, LEVEL_COLORS, LEVEL_DASH, LEVEL_WIDTH):
    p.hspan(y=[lvl], line_color=col, line_dash=dash, line_width=w)
p.hspan(y=[last], line_color=GRID, line_width=1)

# candles
src = ColumnDataSource(data=dict(
    x=bars,
    high=high[:n],
    low=low[:n],
    top=[max(o, c) for o, c in zip(open_[:n], close[:n])],
    bottom=[min(o, c) for o, c in zip(open_[:n], close[:n])],
    fill=["white" if c >= o else "black" for o, c in zip(open_[:n], close[:n])],
))
p.segment(x0="x", y0="low", x1="x", y1="high", source=src,
          line_color="black", line_width=CANDLE_LINE)
p.vbar(x="x", top="top", bottom="bottom", width=0.5, source=src,
       fill_color="fill", line_color="black", line_width=CANDLE_LINE)

# level captions
p.text(x=[590] * len(levels), y=levels, text=level_names, text_color=LEVEL_COLORS,
       text_align="center", text_baseline="top", y_offset=1,
       text_font=value(CAPTION_FONT), text_font_size="21px")

# price scale area to the right of the chart
x_edge = x_at(CHART_W)
p.quad(left=[x_edge], right=[p.x_range.end], bottom=[p.y_range.start], top=[p.y_range.end],
       fill_color="white", line_color=None)
p.quad(left=[x_at(1.5)], right=[x_edge], bottom=[y_at(FRAME_H - 1.5)], top=[y_at(0.5)],
       fill_color=None, line_color="black", line_width=1)
p.segment(x0=[x_edge] * len(price_ticks), x1=[x_at(CHART_W + 4)] * len(price_ticks),
          y0=price_ticks, y1=price_ticks, line_color="black", line_width=1)
p.text(x=[x_edge] * len(price_ticks), y=price_ticks, text=[f"{t:.2f}" for t in price_ticks],
       x_offset=11, text_align="left", text_baseline="middle", text_color="black",
       text_font=value(AXIS_FONT), text_font_size="18px")

# price tags on the scale
tag_y = levels + [last]
tag_colors = LEVEL_COLORS + ["black"]
p.rect(x=[x_at(CHART_W + 41.5)] * len(tag_y), y=tag_y, width=80, height=22,
       width_units="screen", height_units="screen", fill_color=tag_colors, line_color=None)
p.text(x=[x_edge] * len(tag_y), y=tag_y, text=[f"{v:.2f}" for v in tag_y],
       x_offset=11, text_align="left", text_baseline="middle", text_color="white",
       text_font=value(AXIS_FONT), text_font_size="18px")

# chart caption
title = f"\u25bc {SYMBOL}  {open_[n-1]:.2f} {high[n-1]:.2f} {low[n-1]:.2f} {close[n-1]:.2f}"
p.add_layout(Label(x=x0, y=y1, text=title, x_offset=8, y_offset=-4,
                   text_color="black", text_font=AXIS_FONT, text_font_size="18px",
                   text_align="left", text_baseline="top"))

open("out.html", "w").write(file_html(p, INLINE))
